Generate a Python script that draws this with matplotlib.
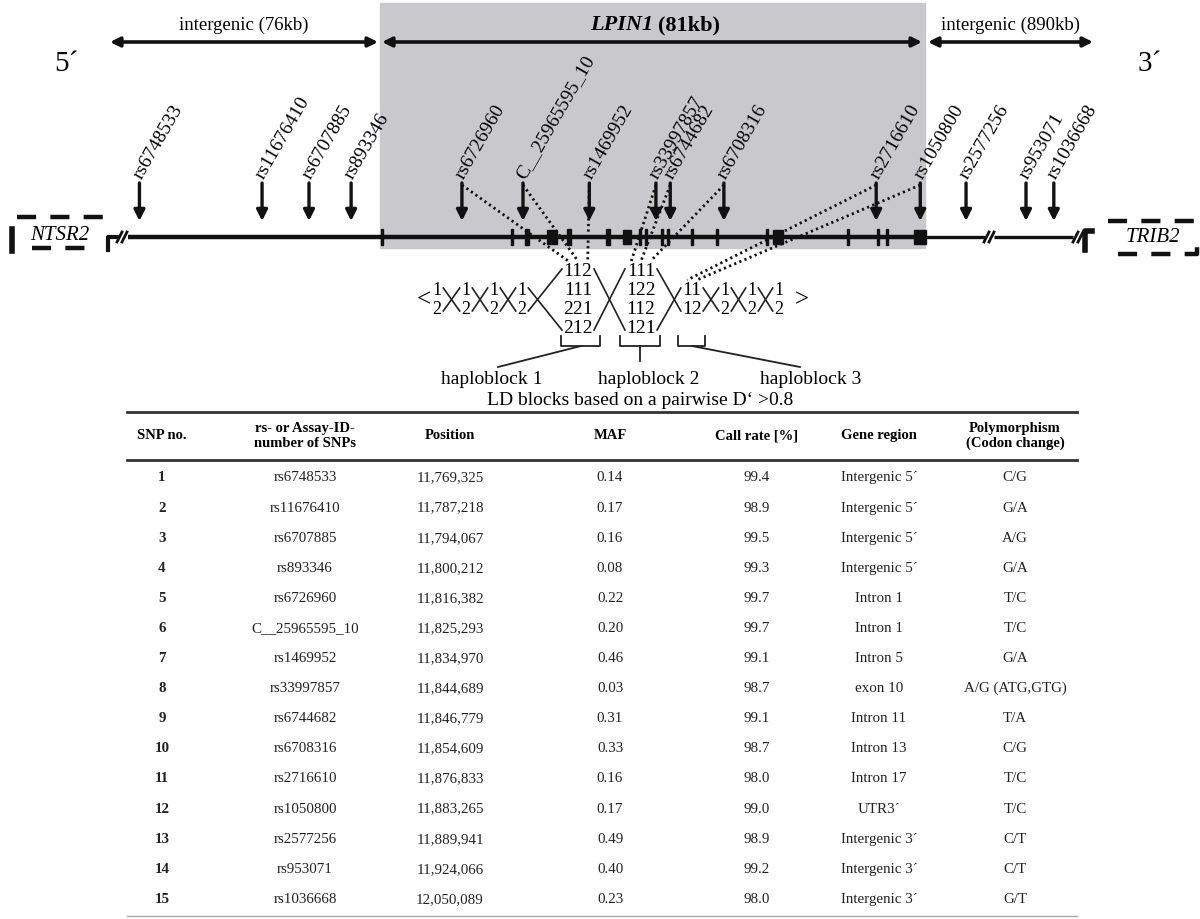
import matplotlib.pyplot as plt
import numpy as np
from matplotlib.patches import Rectangle

plt.rcParams['font.family'] = ['Liberation Serif', 'DejaVu Serif']

# SNP table data
snp_no = list(range(1, 16))
snp_ids = ['rs6748533', 'rs11676410', 'rs6707885', 'rs893346', 'rs6726960',
           'C__25965595_10', 'rs1469952', 'rs33997857', 'rs6744682', 'rs6708316',
           'rs2716610', 'rs1050800', 'rs2577256', 'rs953071', 'rs1036668']
positions = [11769325, 11787218, 11794067, 11800212, 11816382, 11825293, 11834970,
             11844689, 11846779, 11854609, 11876833, 11883265, 11889941, 11924066, 12050089]
maf = [0.14, 0.17, 0.16, 0.08, 0.22, 0.20, 0.46, 0.03, 0.31, 0.33, 0.16, 0.17, 0.49, 0.40, 0.23]
call_rate = [99.4, 98.9, 99.5, 99.3, 99.7, 99.7, 99.1, 98.7, 99.1, 98.7, 98.0, 99.0, 98.9, 99.2, 98.0]
gene_region = ['Intergenic 5\u00b4'] * 4 + ['Intron 1', 'Intron 1', 'Intron 5', 'exon 10',
                                           'Intron 11', 'Intron 13', 'Intron 17', 'UTR3\u00b4'] \
              + ['Intergenic 3\u00b4'] * 3
polymorphism = ['C/G', 'G/A', 'A/G', 'G/A', 'T/C', 'T/C', 'G/A', 'A/G (ATG,GTG)',
                'T/A', 'C/G', 'T/C', 'T/C', 'C/T', 'C/T', 'G/T']
headers = ['SNP no.', 'rs- or Assay-ID-\nnumber of SNPs', 'Position', 'MAF',
           'Call rate [%]', 'Gene region', 'Polymorphism\n(Codon change)']

# exons of LPIN1 (approx. start bp, length bp)
exon_start = [11804700, 11823680, 11825870, 11829520, 11832000, 11837700, 11840470,
              11842370, 11843240, 11845580, 11846460, 11849960, 11853610, 11860910,
              11862510, 11872730, 11877110, 11878430, 11883240]
exon_len = [150, 150, 700, 1500, 700, 700, 1300, 150, 150, 150, 150, 150, 150, 150,
            1500, 150, 150, 150, 1700]

# haplotypes per LD block, and which SNPs (index) build them
hap_blocks = [['112', '111', '221', '212'], ['111', '122', '112', '121'], ['11', '12']]
block_snps = [[4, 5, 6], [7, 8, 9], [10, 11]]

# schematic scale with axis breaks (bp -> px)
scale_bp = [11750000, 11893000, 11915000, 12060000]
scale_px = [7, 987, 1024, 1056]


def bp_to_x(bp):
    return np.interp(bp, scale_bp, scale_px)


fig = plt.figure(figsize=(12, 9.2), dpi=100)
ax = fig.add_axes([0, 0, 1, 1])
ax.set_xlim(0, 1200)
ax.set_ylim(920, 0)
ax.axis('off')

# gene shading
ax.add_patch(Rectangle((380, 4), 545, 245, color='#c9c9cd', zorder=0))

# top span arrows
spans = [(110, 378, 'intergenic (76kb)'), (382, 922, None), (928, 1093, 'intergenic (890kb)')]
for x0, x1, lab in spans:
    ax.annotate('', xy=(x1, 43), xytext=(x0, 43),
                arrowprops=dict(arrowstyle='<|-|>', lw=2.6, color='#111',
                                mutation_scale=14, shrinkA=0, shrinkB=0))
    if lab:
        ax.text((x0 + x1) / 2, 25, lab, ha='center', va='center', fontsize=13.5)
ax.text(653, 25, 'LPIN1', ha='right', va='center', fontsize=16, fontweight='bold', fontstyle='italic')
ax.text(658, 25, '(81kb)', ha='left', va='center', fontsize=16, fontweight='bold')
ax.text(66, 64, '5\u00b4', ha='center', va='center', fontsize=21)
ax.text(1150, 64, '3\u00b4', ha='center', va='center', fontsize=21)

# main chromosome line
line_y = 238
ax.plot([128, 925], [line_y, line_y], color='#111', lw=3.2, solid_capstyle='butt')
ax.plot([925, 985], [line_y, line_y], color='#111', lw=2.4, solid_capstyle='butt')
ax.plot([994, 1073], [line_y, line_y], color='#111', lw=2.4, solid_capstyle='butt')
for bx in [122, 989, 1078]:
    for dx in [-2.5, 2.5]:
        ax.plot([bx + dx - 2.5, bx + dx + 2.5], [line_y + 5, line_y - 5], color='#111', lw=2)

# exons
for s, ln in zip(exon_start, exon_len):
    xa = bp_to_x(s)
    w = max(bp_to_x(s + ln) - xa, 1.8)
    h = 16 if ln < 1000 else 14
    ax.add_patch(Rectangle((xa - w / 2, line_y - h / 2), w, h, color='#111', zorder=3))

# flanking genes
ax.plot([12, 12], [230, 252], color='#111', lw=4)
ax.plot([17, 107], [218, 218], color='#111', lw=3.2, linestyle=(0, (4.3, 3.2)))
ax.plot([32, 90], [249, 249], color='#111', lw=3.2, linestyle=(0, (4.3, 3.2)))
ax.plot([108, 108, 117], [251, line_y, line_y], color='#111', lw=3)
ax.text(60, 236, 'NTSR2', ha='center', va='center', fontsize=15, fontstyle='italic')
ax.plot([1085, 1085, 1092], [251, 232, 232], color='#111', lw=4)
ax.plot([1108, 1197, 1197], [222, 222, 232], color='#111', lw=3.2, linestyle=(0, (4.3, 3.2)))
ax.plot([1118, 1197, 1197], [255, 255, 248], color='#111', lw=3.2, linestyle=(0, (4.3, 3.2)))
ax.text(1153, 238, 'TRIB2', ha='center', va='center', fontsize=15, fontstyle='italic')

# SNP arrows and labels
arrow_top, arrow_tip = 184, 222
snp_x = bp_to_x(np.array(positions))
for x, name in zip(snp_x, snp_ids):
    ax.annotate('', xy=(x, arrow_tip), xytext=(x, arrow_top),
                arrowprops=dict(arrowstyle='-|>', lw=2.4, color='#111',
                                mutation_scale=16, shrinkA=0, shrinkB=0))
    ax.text(x + 2, arrow_top - 4, name, rotation=60, rotation_mode='anchor',
            ha='left', va='baseline', fontsize=14)

# haplotype chain
rows4 = [272, 291, 310, 329]
rows2 = [291, 310]
dig_w = 9.7
chain = [(437, ['1', '2'], 13), (466, ['1', '2'], 13), (494, ['1', '2'], 13), (522, ['1', '2'], 13),
         (578, hap_blocks[0], 14), (641, hap_blocks[1], 14), (692, hap_blocks[2], 14),
         (725, ['1', '2'], 13), (752, ['1', '2'], 13), (779, ['1', '2'], 13)]
items = []
for cx, rows, fs in chain:
    ys = rows4 if len(rows) == 4 else rows2
    for r, yy in zip(rows, ys):
        ax.text(cx, yy, r, ha='center', va='center', fontsize=fs)
    hw = len(rows[0]) * dig_w / 2 if len(rows[0]) > 1 else 4.8
    items.append((cx, hw, ys[0] - 2, ys[-1] + 2))
for (xl, hl, tl, bl), (xr, hr, tr, br) in zip(items[:-1], items[1:]):
    a, b = xl + hl + 1.5, xr - hr - 1.5
    ax.plot([a, b], [tl, br], color='#222', lw=1.2)
    ax.plot([a, b], [bl, tr], color='#222', lw=1.2)
ax.text(424, 300, '<', ha='center', va='center', fontsize=18)
ax.text(802, 300, '>', ha='center', va='center', fontsize=18)

# dotted links SNP -> haplotype digit
block_x = [578, 641, 692]
block_top = [262, 262, 281]
for bi, snps in enumerate(block_snps):
    n = len(snps)
    for j, si in enumerate(snps):
        dx = block_x[bi] - (n - 1) / 2 * dig_w + j * dig_w
        ax.plot([snp_x[si], dx], [arrow_top + 2, block_top[bi]], color='#111',
                lw=2, linestyle=(0, (0.8, 1.2)), zorder=2)

# haploblock brackets
brackets = [(561, 600, 581, (498, 368)), (620, 660, 640, (640, 362)), (678, 705, 692, (800, 368))]
for x0, x1, xm, (ex, ey) in brackets:
    ax.plot([x0, x0, x1, x1], [337, 347, 347, 337], color='#222', lw=1.3)
    ax.plot([xm, ex], [347, ey], color='#222', lw=1.3)
for lx, lab in zip([492, 649, 811], ['haploblock 1', 'haploblock 2', 'haploblock 3']):
    ax.text(lx, 380, lab, ha='center', va='center', fontsize=14)
ax.text(640, 401, 'LD blocks based on a pairwise D\u2018 >0.8', ha='center', va='center', fontsize=14)

# table
col_x = [162, 305, 450, 610, 757, 879, 1015]
tx0, tx1 = 127, 1077
ax.plot([tx0, tx1], [413, 413], color='#333', lw=2)
ax.plot([tx0, tx1], [461, 461], color='#333', lw=2)
ax.plot([tx0, tx1], [917, 917], color='#aaa', lw=1)
for cx, h in zip(col_x, headers):
    ax.text(cx, 436, h, ha='center', va='center', fontsize=10.5, fontweight='bold',
            linespacing=1.15)
row_y0, row_dy = 478, 30.1
for i in range(len(snp_no)):
    y = row_y0 + i * row_dy
    vals = [str(snp_no[i]), snp_ids[i], f'{positions[i]:,}', f'{maf[i]:.2f}',
            f'{call_rate[i]:.1f}', gene_region[i], polymorphism[i]]
    for k, (cx, v) in enumerate(zip(col_x, vals)):
        ax.text(cx, y, v, ha='center', va='center', fontsize=10.8,
                fontweight='bold' if k == 0 else 'normal', color='#222')

fig.savefig('out.png', dpi=100)
